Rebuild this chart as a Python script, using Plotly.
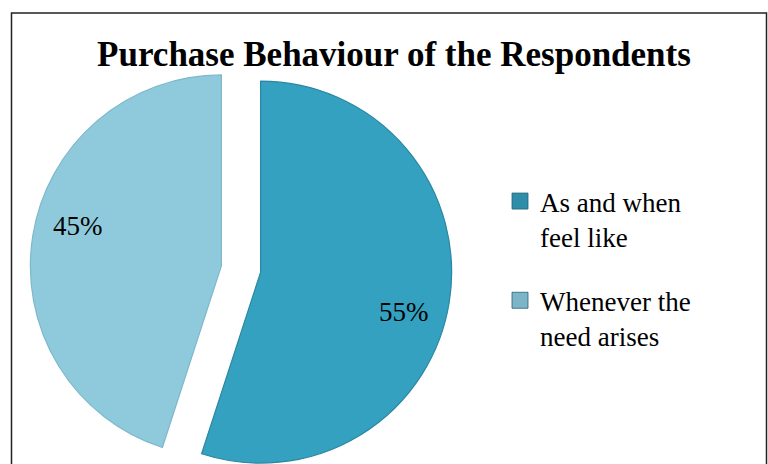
import math
import plotly.graph_objects as go

# ---- data ----
categories = ["As and when feel like", "Whenever the need arises"]
legend_labels = ["As and when<br>feel like", "Whenever the<br>need arises"]
values = [55, 45]
title_text = "Purchase Behaviour of the Respondents"

# ---- style ----
W, H = 768, 464
slice_colors = ["#34A1C0", "#8FCADC"]
slice_edges = ["#2B87A1", "#7DB8CB"]
legend_colors = ["#2E8DA8", "#7EB4C7"]
FONT = "Liberation Serif, Times New Roman, serif"
R = 191            # pie radius in px
CX, CY = 241, 269  # pie centre (px from top-left)
PULL = 0.104       # explode fraction of radius
LABEL_R = 0.76     # label distance from slice centre, fraction of radius

total = sum(values)
fig = go.Figure()
annotations = []

start = 0.0
for i, v in enumerate(values):
    frac = v / total
    mid = (start + frac / 2) * 2 * math.pi  # clockwise from 12 o'clock
    start += frac
    ux, uy = math.sin(mid), math.cos(mid)   # unit vector (x right, y up)
    cx_px = CX + ux * PULL * R
    cy_up = (H - CY) + uy * PULL * R
    cx = cx_px / W
    cy = cy_up / H
    colors = ["rgba(0,0,0,0)"] * len(values)
    edges = ["rgba(0,0,0,0)"] * len(values)
    colors[i] = slice_colors[i]
    edges[i] = slice_edges[i]
    fig.add_trace(go.Pie(
        labels=categories, values=values, sort=False, direction="clockwise",
        rotation=0, marker=dict(colors=colors, line=dict(color=edges, width=1.2)),
        textinfo="none",
        domain=dict(x=[cx - R / W, cx + R / W], y=[cy - R / H, cy + R / H]),
        showlegend=False, hoverinfo="skip",
    ))
    annotations.append(dict(
        x=(cx_px + ux * LABEL_R * R) / W, y=(cy_up + uy * LABEL_R * R) / H,
        xref="paper", yref="paper", xanchor="center",
        yanchor="top" if uy < 0 else "bottom",
        text=f"{v / total * 100:.0f}%", showarrow=False,
        font=dict(family=FONT, size=27, color="black"),
    ))

for lab, col, grp in zip(legend_labels, legend_colors, ["a", "b"]):
    fig.add_trace(go.Scatter(
        x=[None], y=[None], mode="markers", name=lab, legendgroup=grp,
        marker=dict(symbol="square", size=16, color=col,
                    line=dict(color="#1F6579", width=0.8)),
        hoverinfo="skip",
    ))

fig.add_shape(type="rect", xref="paper", yref="paper",
              x0=11.5 / W, x1=766.5 / W, y0=-0.05, y1=1 - 13 / H,
              line=dict(color="#222222", width=1.5), fillcolor="rgba(0,0,0,0)")

fig.update_layout(
    width=W, height=H,
    margin=dict(l=0, r=0, t=0, b=0),
    paper_bgcolor="white", plot_bgcolor="white",
    title=dict(text=f"<b>{title_text}</b>", x=394 / W, xanchor="center",
               y=1 - 54 / H, yanchor="middle",
               font=dict(family=FONT, size=35, color="black")),
    xaxis=dict(visible=False), yaxis=dict(visible=False),
    annotations=annotations,
    legend=dict(x=500 / W, xanchor="left", y=1 - 177 / H, yanchor="top",
                valign="top", traceorder="grouped", tracegroupgap=26,
                font=dict(family=FONT, size=27, color="black"),
                bgcolor="rgba(0,0,0,0)", itemclick=False, itemdoubleclick=False),
)

fig.write_html("out.html")
